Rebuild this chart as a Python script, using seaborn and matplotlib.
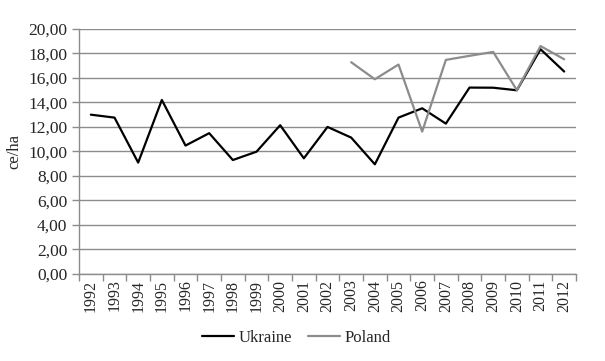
import pandas as pd
import matplotlib.pyplot as plt
import seaborn as sns
from matplotlib.ticker import FuncFormatter, MultipleLocator

# data
years = list(range(1992, 2013))
ukraine = [13.00, 12.76, 9.09, 14.20, 10.48, 11.49, 9.30, 9.98, 12.14, 9.44,
           12.00, 11.13, 8.95, 12.76, 13.52, 12.27, 15.21, 15.20, 14.99, 18.34, 16.52]
poland_years = list(range(2003, 2013))
poland = [17.28, 15.89, 17.09, 11.62, 17.47, 17.80, 18.12, 15.00, 18.60, 17.52]

df = pd.concat([
    pd.DataFrame({"year": years, "value": ukraine, "country": "Ukraine"}),
    pd.DataFrame({"year": poland_years, "value": poland, "country": "Poland"}),
])

sns.set_style("white")
plt.rcParams["font.family"] = ["Liberation Serif", "DejaVu Serif"]
plt.rcParams["font.size"] = 12

fig = plt.figure(figsize=(6.05, 3.61), dpi=100)
ax = fig.add_axes([0.1306, 0.241, 0.8215, 0.679])

sns.lineplot(data=df, x="year", y="value", hue="country",
             palette={"Ukraine": "#000000", "Poland": "#8c8c8c"},
             linewidth=1.6, ax=ax, legend=False)

ax.set_ylim(0, 20)
ax.set_xlim(1991.5, 2012.5)
ax.yaxis.set_major_locator(MultipleLocator(2))
ax.yaxis.set_major_formatter(FuncFormatter(lambda v, p: f"{v:.2f}".replace(".", ",")))
ax.grid(axis="y", color="#8c8c8c", linewidth=1)
ax.set_axisbelow(True)

# category ticks between years, labels centred
ax.set_xticks([y - 0.5 for y in years] + [2012.5])
ax.set_xticklabels([])
ax.set_xticks(years, minor=True)
ax.set_xticklabels([str(y) for y in years], minor=True, rotation=90)
ax.tick_params(axis="x", which="major", length=5, color="#8c8c8c", width=1, direction="out", bottom=True)
ax.tick_params(axis="x", which="minor", length=0, pad=4, labelsize=11.5)
ax.tick_params(axis="y", length=5, color="#8c8c8c", width=1, direction="out", left=True, labelsize=12.5)

for s in ["top", "right"]:
    ax.spines[s].set_visible(False)
for s in ["left", "bottom"]:
    ax.spines[s].set_color("#8c8c8c")
    ax.spines[s].set_linewidth(1)

ax.set_xlabel("")
ax.set_ylabel("ce/ha", fontsize=12)

handles = [plt.Line2D([], [], color="#000000", linewidth=1.6),
           plt.Line2D([], [], color="#8c8c8c", linewidth=1.6)]
fig.legend(handles, ["Ukraine", "Poland"], loc="center", bbox_to_anchor=(0.49, 0.064),
           ncol=2, frameon=False, fontsize=12, handlelength=1.9, handletextpad=0.25,
           columnspacing=1.0)

fig.savefig("out.png", dpi=100)
